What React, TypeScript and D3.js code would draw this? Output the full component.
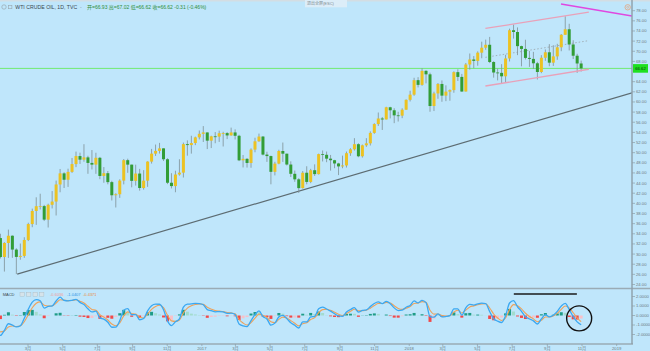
import React from "react";
import * as d3 from "d3";

// ---------- DATA (weekly) ----------
const FIRST_FRIDAY = "2016-01-08";
const FIRST_OPEN = 37.6;

const closes2016 = [33.16, 29.42, 32.19, 33.62, 30.89, 29.44, 29.64, 32.78, 35.92, 38.5, 39.44, 39.46, 36.79, 39.72, 40.36, 43.73, 45.92, 44.66, 46.21, 47.75, 49.33, 48.62, 49.07, 47.98, 47.64, 48.99, 45.41, 45.95, 44.19, 41.6, 41.8, 44.49, 48.52, 47.64, 44.44, 45.88, 43.03, 44.48, 48.24, 49.81, 50.35, 50.85, 48.7, 44.07, 43.41, 45.69, 46.06, 51.68, 51.5, 51.9, 53.02, 53.72];
const highs2016 = [38.39, 34.0, 32.35, 34.82, 33.69, 31.15, 32.08, 33.32, 36.18, 38.96, 41.2, 41.9, 39.7, 39.94, 42.42, 44.49, 46.78, 46.15, 46.84, 48.95, 50.21, 50.0, 51.67, 49.39, 50.52, 49.98, 49.16, 47.17, 46.38, 44.45, 42.0, 44.75, 48.75, 48.81, 47.48, 47.63, 46.8, 46.55, 48.3, 50.74, 51.6, 51.93, 50.86, 48.9, 45.95, 46.44, 48.7, 51.99, 52.42, 53.33, 53.16, 54.37];
const lows2016 = [32.1, 29.13, 26.55, 29.25, 29.26, 26.05, 28.88, 29.26, 32.57, 35.3, 35.76, 38.8, 36.52, 35.24, 39.0, 37.61, 42.19, 43.03, 43.25, 46.0, 47.15, 47.78, 48.22, 45.83, 46.69, 45.83, 44.77, 44.06, 43.76, 40.57, 39.19, 41.08, 43.75, 46.03, 43.17, 43.51, 42.51, 42.72, 43.26, 47.85, 49.36, 49.82, 48.35, 43.8, 42.95, 42.2, 45.47, 45.1, 49.41, 49.81, 51.49, 52.61];

const closes2017 = [53.99, 52.37, 53.22, 53.17, 53.83, 53.86, 53.4, 53.99, 53.33, 48.49, 48.78, 47.97, 50.6, 52.24, 53.18, 49.62, 49.33, 46.22, 47.84, 50.33, 49.8, 47.66, 45.83, 44.74, 43.01, 46.04, 44.23, 46.54, 45.77, 49.71, 49.58, 48.82, 48.51, 47.87, 47.29, 47.48, 49.89, 50.66, 51.67, 49.29, 51.45, 51.84, 53.9, 55.64, 56.74, 56.55, 58.95, 58.36, 57.36, 57.3, 58.47, 60.42];
const highs2017 = [55.24, 54.0, 53.34, 54.07, 54.34, 54.12, 54.06, 54.94, 54.59, 53.52, 49.54, 48.93, 50.85, 52.94, 53.76, 53.26, 50.18, 49.42, 48.2, 50.58, 52.0, 49.8, 48.29, 46.47, 44.97, 46.38, 47.32, 46.81, 47.7, 49.81, 50.43, 50.22, 49.55, 48.58, 48.0, 49.42, 50.22, 50.89, 52.86, 51.86, 51.6, 52.86, 54.2, 55.81, 57.92, 57.03, 59.05, 59.05, 58.76, 58.07, 58.76, 60.51];
const lows2017 = [52.11, 50.71, 50.91, 51.86, 52.12, 51.22, 52.68, 53.35, 52.6, 48.34, 47.09, 47.06, 47.02, 50.08, 52.13, 49.46, 48.18, 43.76, 45.52, 47.71, 48.18, 47.47, 45.2, 44.25, 42.05, 42.92, 43.76, 43.99, 45.4, 45.68, 48.27, 48.12, 46.46, 46.93, 45.58, 46.93, 47.07, 49.37, 50.42, 49.1, 49.03, 51.15, 51.42, 53.71, 55.28, 54.48, 56.62, 56.76, 55.82, 56.14, 56.81, 58.62];

const closes2018 = [61.44, 64.3, 63.37, 66.14, 65.45, 59.2, 61.68, 63.55, 61.25, 62.04, 62.34, 65.88, 64.94, 62.06, 67.39, 68.38, 68.1, 69.72, 70.7, 71.28, 67.88, 65.81, 65.74, 65.06, 68.58, 74.15, 73.8, 71.01, 70.46, 68.69, 68.49, 67.63, 65.91, 68.72, 69.8, 67.75, 68.99, 70.78, 73.25, 74.34, 71.34, 69.12, 67.59, 66.62];
const highs2018 = [62.21, 64.77, 64.89, 66.66, 66.26, 65.78, 62.02, 63.73, 64.24, 63.28, 62.48, 66.05, 66.45, 65.53, 67.68, 69.56, 69.05, 69.98, 71.89, 72.3, 72.83, 68.04, 66.57, 67.46, 69.3, 74.46, 75.27, 74.7, 71.1, 72.27, 70.07, 69.88, 67.91, 69.23, 70.36, 71.4, 71.19, 71.47, 73.39, 76.9, 75.42, 72.18, 69.5, 68.15];
const lows2018 = [60.1, 61.22, 62.87, 63.19, 63.67, 58.07, 58.21, 60.63, 60.04, 60.16, 60.24, 61.82, 64.14, 62.01, 62.06, 66.38, 66.66, 67.15, 68.62, 70.29, 67.67, 64.8, 64.26, 63.59, 63.85, 67.99, 72.5, 69.24, 67.03, 68.38, 66.92, 66.51, 64.43, 65.68, 68.12, 67.05, 67.1, 68.32, 70.01, 73.46, 70.16, 68.47, 65.74, 66.0];

// closes before the first visible week, used only to warm up the MACD averages
const warmupCloses = [45.54, 49.63, 47.26, 44.6, 46.59, 44.29, 40.74, 40.39, 41.71, 39.97, 35.62, 34.73, 38.1, 37.04];

const LAST_PRICE = 66.62;
const priceTicks = [78, 76, 74, 72, 70, 68, 66, 64, 62, 60, 58, 56, 54, 52, 50, 48, 46, 44, 42, 40, 38, 36, 34, 32, 30, 28, 26, 24];
const macdTicks = [2, 1, 0, -1, -2];
const macdTickLabels = ["2.0000", "1.0000", "0.0000", "-1.0000", "-2.0000"];
const xTickDates = ["2016-03-01", "2016-05-01", "2016-07-01", "2016-09-01", "2016-11-01", "2017-01-01", "2017-03-01", "2017-05-01", "2017-07-01", "2017-09-01", "2017-11-01", "2018-01-01", "2018-03-01", "2018-05-01", "2018-07-01", "2018-09-01", "2018-11-01", "2019-01-01"];
const xTickLabels = ["3月", "5月", "7月", "9月", "11月", "2017", "3月", "5月", "7月", "9月", "11月", "2018", "3月", "5月", "7月", "9月", "11月", "2019"];

// drawn annotations: [date, price]
const supportLine: [string, number][] = [["2016-02-11", 26.05], ["2019-01-28", 61.8]];
const channelTop: [string, number][] = [["2018-05-15", 74.5], ["2018-11-13", 77.7]];
const channelBottom: [string, number][] = [["2018-05-15", 63.15], ["2018-11-13", 66.45]];
const channelMid: [string, number][] = [["2018-05-15", 68.8], ["2018-11-13", 72.1]];
const resistanceLine: [string, number][] = [["2018-09-25", 79.32], ["2019-01-28", 76.95]];
const macdLevel: [string, number][] = [["2018-07-04", 2.26], ["2018-10-23", 2.26]];
const macdCircle: [string, number] = ["2018-10-27", -0.3];

const MACD_FAST = 12, MACD_SLOW = 26, MACD_SIGNAL = 9, DAYS_PER_BAR = 5;

// ---------- COMPONENT ----------
const W = 650, H = 351;
const AXIS_X = 632;
const PRICE_BOTTOM = 288;
const MACD_BOTTOM = 344;
const FONT = "'Liberation Sans', Arial, 'Noto Sans CJK SC', sans-serif";

const parse = (s: string) => {
  const [y, m, d] = s.split("-").map(Number);
  return new Date(y, m - 1, d);
};

// EMA on weekly bars with the same lag as an n-day EMA on daily bars
function ema(values: number[], n: number) {
  const a = (2 * DAYS_PER_BAR) / (n - 1 + 2 * DAYS_PER_BAR);
  const out: number[] = [];
  values.forEach((v, i) => out.push(i === 0 ? v : a * v + (1 - a) * out[i - 1]));
  return out;
}

export default function App() {
  const closes = [...closes2016, ...closes2017, ...closes2018];
  const highs = [...highs2016, ...highs2017, ...highs2018];
  const lows = [...lows2016, ...lows2017, ...lows2018];
  const f0 = parse(FIRST_FRIDAY).getTime();
  const dates = closes.map((_, i) => new Date(f0 + (i * 7 - 2.5) * 864e5));

  const x = d3.scaleTime().domain([parse("2016-03-01"), parse("2018-11-01")]).range([28, 582]);
  const y = d3.scaleLinear().domain([24, 78]).range([284.5, 10.7]);
  const ym = d3.scaleLinear().domain([-2, 2]).range([334.5, 296.5]);

  const candles = closes.map((c, i) => {
    const o = i === 0 ? FIRST_OPEN : closes[i - 1];
    return { d: dates[i], o, c, h: Math.max(highs[i], o, c), l: Math.min(lows[i], o, c) };
  });

  // MACD
  const all = [...warmupCloses, ...closes];
  const fast = ema(all, MACD_FAST);
  const slow = ema(all, MACD_SLOW);
  const macdAll = fast.map((f, i) => f - slow[i]);
  const sigAll = ema(macdAll, MACD_SIGNAL);
  const histAll = macdAll.map((m, i) => m - sigAll[i]);
  const off = warmupCloses.length;
  const macd = macdAll.slice(off);
  const sig = sigAll.slice(off);
  const hist = histAll.slice(off);
  const histPrev = histAll.slice(off - 1);

  const macdLine = d3.line<number>().x((_, i) => x(dates[i])).y((v) => ym(v)).curve(d3.curveMonotoneX);
  const seg = (pts: [string, number][], sy: (v: number) => number) =>
    d3.line<[string, number]>().x((p) => x(parse(p[0]))).y((p) => sy(p[1]))(pts) || "";

  const histColor = (h: number, p: number) =>
    h >= 0 ? (h >= p ? "#1f9c87" : "#a3dccd") : h < p ? "#f24848" : "#f8c0c8";

  const yLast = y(LAST_PRICE);

  return (
    <div style={{ position: "absolute", left: 0, top: 0 }}>
      <svg width={W} height={H} style={{ display: "block", fontFamily: FONT }}>
        <defs>
          <clipPath id="pclip"><rect x={0} y={0} width={AXIS_X} height={PRICE_BOTTOM} /></clipPath>
          <clipPath id="mclip"><rect x={0} y={PRICE_BOTTOM + 1} width={AXIS_X} height={MACD_BOTTOM - PRICE_BOTTOM - 1} /></clipPath>
        </defs>
        <rect x={0} y={0} width={W} height={H} fill="#bfe6fb" />
        <rect x={0} y={0} width={W} height={1.5} fill="#d3dde3" />

        {/* price panel */}
        <g clipPath="url(#pclip)">
          <line x1={0} x2={AXIS_X} y1={yLast} y2={yLast} stroke="#72ea72" strokeWidth={1} />
          <path d={seg(supportLine, y)} stroke="#5d6c72" strokeWidth={1.2} fill="none" />
          <path d={seg(channelMid, y)} stroke="#a2b1ba" strokeWidth={1} strokeDasharray="1.5 2" fill="none" />
          {candles.map((k, i) => {
            const cx = x(k.d);
            const up = k.c >= k.o;
            const top = y(Math.max(k.o, k.c));
            const bh = Math.max(0.8, Math.abs(y(k.o) - y(k.c)));
            return (
              <g key={i}>
                <line x1={cx} x2={cx} y1={y(k.h)} y2={y(k.l)} stroke="#7f9096" strokeWidth={0.8} />
                <rect x={cx - 1.5} y={top} width={3} height={bh} fill={up ? "#ecc223" : "#329d36"} />
              </g>
            );
          })}
          <path d={seg(channelTop, y)} stroke="#e9a1b9" strokeWidth={1.3} fill="none" />
          <path d={seg(channelBottom, y)} stroke="#e9a1b9" strokeWidth={1.3} fill="none" />
          <path d={seg(resistanceLine, y)} stroke="#e048e0" strokeWidth={1.5} fill="none" />
        </g>

        {/* MACD panel */}
        <g clipPath="url(#mclip)">
          {hist.map((h, i) => (
            <rect key={i} x={x(dates[i]) - 1.5} width={3}
              y={Math.min(ym(0), ym(h))} height={Math.abs(ym(h) - ym(0))}
              fill={histColor(h, histPrev[i])} />
          ))}
          <path d={macdLine(sig) || ""} stroke="#eea25a" strokeWidth={1.1} fill="none" />
          <path d={macdLine(macd) || ""} stroke="#3aa8f2" strokeWidth={1.3} fill="none" />
          <path d={seg(macdLevel, ym)} stroke="#1a1a1a" strokeWidth={1.6} fill="none" />
          <circle cx={x(parse(macdCircle[0]))} cy={ym(macdCircle[1])} r={12.5} fill="none" stroke="#111" strokeWidth={1.4} />
        </g>

        {/* axes */}
        <line x1={0} x2={W} y1={PRICE_BOTTOM + 0.5} y2={PRICE_BOTTOM + 0.5} stroke="#9aabb5" strokeWidth={1.6} />
        <line x1={0} x2={AXIS_X + 1} y1={MACD_BOTTOM} y2={MACD_BOTTOM} stroke="#9aabb5" strokeWidth={1.4} />
        <line x1={AXIS_X} x2={AXIS_X} y1={0} y2={MACD_BOTTOM} stroke="#8d9ea8" strokeWidth={1.4} />

        {priceTicks.filter((t) => Math.abs(y(t) - yLast) > 5).map((t) => (
          <g key={t}>
            <line x1={AXIS_X} x2={AXIS_X + 3} y1={y(t)} y2={y(t)} stroke="#8d9ea8" strokeWidth={0.7} />
            <text x={AXIS_X + 4} y={y(t)} dy="0.35em" fontSize={4.2} fill="#6d7a82">{t.toFixed(2)}</text>
          </g>
        ))}
        <rect x={AXIS_X + 1} y={yLast - 4.3} width={15} height={8.6} fill="#1ee01e" />
        <text x={AXIS_X + 8.5} y={yLast} dy="0.35em" fontSize={4.2} fill="#0f2f0f" textAnchor="middle">{LAST_PRICE.toFixed(2)}</text>

        {macdTicks.map((t, i) => (
          <g key={t}>
            <line x1={AXIS_X} x2={AXIS_X + 3} y1={ym(t)} y2={ym(t)} stroke="#8d9ea8" strokeWidth={0.7} />
            <text x={AXIS_X + 4} y={ym(t)} dy="0.35em" fontSize={4.2} fill="#6d7a82">{macdTickLabels[i]}</text>
          </g>
        ))}

        {xTickDates.map((s, i) => {
          const tx = x(parse(s));
          return (
            <g key={s}>
              <line x1={tx} x2={tx} y1={MACD_BOTTOM} y2={MACD_BOTTOM + 2} stroke="#8d9ea8" strokeWidth={0.7} />
              <text x={tx} y={349.8} fontSize={4.2} fill="#6d7a82" textAnchor="middle">{xTickLabels[i]}</text>
            </g>
          );
        })}

        {/* header */}
        <circle cx={4} cy={7} r={2.2} fill="none" stroke="#9aa6ad" strokeWidth={0.7} />
        <rect x={8.5} y={5.3} width={3.4} height={3.4} fill="none" stroke="#9aa6ad" strokeWidth={0.6} />
        <text x={15.3} y={9} fontSize={5.2} fill="#3b4850">WTI CRUDE OIL, 1D, TVC</text>
        <text x={80} y={9} fontSize={5.2} fill="#8a969c">-</text>
        <text x={87} y={9} fontSize={5} fill="#2f8f3a">
          开=66.93  高=67.02  低=66.62  收=66.62  -0.31 (-0.46%)
        </text>
        <rect x={305} y={0} width={42} height={7.3} fill="#dcedf8" />
        <text x={307} y={5.3} fontSize={4} fill="#7d8a92">退出全屏(ESC)</text>
        <circle cx={627.7} cy={7.3} r={2.7} fill="none" stroke="#e4a37c" strokeWidth={0.8} />
        <circle cx={627.7} cy={7.3} r={1} fill="none" stroke="#e4a37c" strokeWidth={0.6} />

        {/* MACD legend */}
        <text x={2.7} y={295.5} fontSize={4} fill="#3b4850">MACD</text>
        {[20, 26.5, 33, 39.5].map((bx) => (
          <rect key={bx} x={bx} y={292.2} width={4.4} height={4} fill="#d5e3ea" stroke="#a9b8c0" strokeWidth={0.4} />
        ))}
        <text x={50} y={295.5} fontSize={4} fill="#f29a9a">-0.6036</text>
        <text x={67} y={295.5} fontSize={4} fill="#2c96e6">-1.0407</text>
        <text x={83} y={295.5} fontSize={4} fill="#ea8a3a">-0.4371</text>
      </svg>
    </div>
  );
}
